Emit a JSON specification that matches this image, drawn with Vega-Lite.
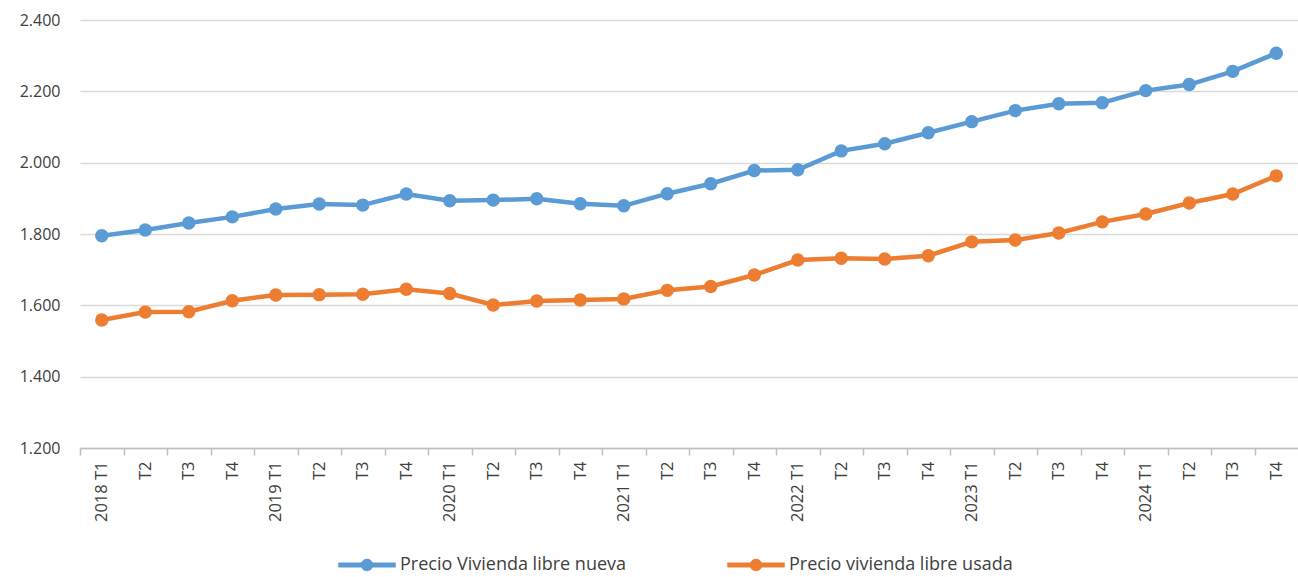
{
  "$schema": "https://vega.github.io/schema/vega-lite/v6.json",
  "width": 1218,
  "height": 428,
  "autosize": {"type": "none"},
  "padding": {"left": 80, "top": 20, "right": 0, "bottom": 129},
  "background": "white",
  "config": {
    "view": {"stroke": null},
    "font": "Open Sans",
    "axis": {"labelFont": "Open Sans", "labelColor": "#404040"}
  },
  "data": {
    "values": [
      {"periodo": "2018 T1", "serie": "Precio Vivienda  libre nueva", "valor": 1795},
      {"periodo": "2018 T2", "serie": "Precio Vivienda  libre nueva", "valor": 1811},
      {"periodo": "2018 T3", "serie": "Precio Vivienda  libre nueva", "valor": 1831},
      {"periodo": "2018 T4", "serie": "Precio Vivienda  libre nueva", "valor": 1848},
      {"periodo": "2019 T1", "serie": "Precio Vivienda  libre nueva", "valor": 1870},
      {"periodo": "2019 T2", "serie": "Precio Vivienda  libre nueva", "valor": 1884},
      {"periodo": "2019 T3", "serie": "Precio Vivienda  libre nueva", "valor": 1881},
      {"periodo": "2019 T4", "serie": "Precio Vivienda  libre nueva", "valor": 1912},
      {"periodo": "2020 T1", "serie": "Precio Vivienda  libre nueva", "valor": 1893},
      {"periodo": "2020 T2", "serie": "Precio Vivienda  libre nueva", "valor": 1895},
      {"periodo": "2020 T3", "serie": "Precio Vivienda  libre nueva", "valor": 1899},
      {"periodo": "2020 T4", "serie": "Precio Vivienda  libre nueva", "valor": 1885},
      {"periodo": "2021 T1", "serie": "Precio Vivienda  libre nueva", "valor": 1879},
      {"periodo": "2021 T2", "serie": "Precio Vivienda  libre nueva", "valor": 1913},
      {"periodo": "2021 T3", "serie": "Precio Vivienda  libre nueva", "valor": 1941},
      {"periodo": "2021 T4", "serie": "Precio Vivienda  libre nueva", "valor": 1978},
      {"periodo": "2022 T1", "serie": "Precio Vivienda  libre nueva", "valor": 1980},
      {"periodo": "2022 T2", "serie": "Precio Vivienda  libre nueva", "valor": 2033},
      {"periodo": "2022 T3", "serie": "Precio Vivienda  libre nueva", "valor": 2053},
      {"periodo": "2022 T4", "serie": "Precio Vivienda  libre nueva", "valor": 2084},
      {"periodo": "2023 T1", "serie": "Precio Vivienda  libre nueva", "valor": 2115},
      {"periodo": "2023 T2", "serie": "Precio Vivienda  libre nueva", "valor": 2146},
      {"periodo": "2023 T3", "serie": "Precio Vivienda  libre nueva", "valor": 2165},
      {"periodo": "2023 T4", "serie": "Precio Vivienda  libre nueva", "valor": 2168},
      {"periodo": "2024 T1", "serie": "Precio Vivienda  libre nueva", "valor": 2202},
      {"periodo": "2024 T2", "serie": "Precio Vivienda  libre nueva", "valor": 2219},
      {"periodo": "2024 T3", "serie": "Precio Vivienda  libre nueva", "valor": 2256},
      {"periodo": "2024 T4", "serie": "Precio Vivienda  libre nueva", "valor": 2307},
      {"periodo": "2018 T1", "serie": "Precio vivienda libre usada", "valor": 1559},
      {"periodo": "2018 T2", "serie": "Precio vivienda libre usada", "valor": 1581},
      {"periodo": "2018 T3", "serie": "Precio vivienda libre usada", "valor": 1582},
      {"periodo": "2018 T4", "serie": "Precio vivienda libre usada", "valor": 1613},
      {"periodo": "2019 T1", "serie": "Precio vivienda libre usada", "valor": 1629},
      {"periodo": "2019 T2", "serie": "Precio vivienda libre usada", "valor": 1630},
      {"periodo": "2019 T3", "serie": "Precio vivienda libre usada", "valor": 1631},
      {"periodo": "2019 T4", "serie": "Precio vivienda libre usada", "valor": 1645},
      {"periodo": "2020 T1", "serie": "Precio vivienda libre usada", "valor": 1633},
      {"periodo": "2020 T2", "serie": "Precio vivienda libre usada", "valor": 1601},
      {"periodo": "2020 T3", "serie": "Precio vivienda libre usada", "valor": 1612},
      {"periodo": "2020 T4", "serie": "Precio vivienda libre usada", "valor": 1615},
      {"periodo": "2021 T1", "serie": "Precio vivienda libre usada", "valor": 1618},
      {"periodo": "2021 T2", "serie": "Precio vivienda libre usada", "valor": 1642},
      {"periodo": "2021 T3", "serie": "Precio vivienda libre usada", "valor": 1653},
      {"periodo": "2021 T4", "serie": "Precio vivienda libre usada", "valor": 1685},
      {"periodo": "2022 T1", "serie": "Precio vivienda libre usada", "valor": 1727},
      {"periodo": "2022 T2", "serie": "Precio vivienda libre usada", "valor": 1732},
      {"periodo": "2022 T3", "serie": "Precio vivienda libre usada", "valor": 1730},
      {"periodo": "2022 T4", "serie": "Precio vivienda libre usada", "valor": 1739},
      {"periodo": "2023 T1", "serie": "Precio vivienda libre usada", "valor": 1778},
      {"periodo": "2023 T2", "serie": "Precio vivienda libre usada", "valor": 1783},
      {"periodo": "2023 T3", "serie": "Precio vivienda libre usada", "valor": 1803},
      {"periodo": "2023 T4", "serie": "Precio vivienda libre usada", "valor": 1834},
      {"periodo": "2024 T1", "serie": "Precio vivienda libre usada", "valor": 1856},
      {"periodo": "2024 T2", "serie": "Precio vivienda libre usada", "valor": 1887},
      {"periodo": "2024 T3", "serie": "Precio vivienda libre usada", "valor": 1912},
      {"periodo": "2024 T4", "serie": "Precio vivienda libre usada", "valor": 1963}
    ]
  },
  "encoding": {
    "x": {
      "field": "periodo",
      "type": "nominal",
      "sort": null,
      "scale": {"type": "band", "paddingInner": 0, "paddingOuter": 0},
      "axis": {
        "title": null,
        "labelAngle": 270,
        "labelFontSize": 16.5,
        "labelPadding": 6,
        "labelExpr": "indexof(datum.value, 'T1') >= 0 ? datum.value : slice(datum.value, 5)",
        "tickOffset": -21.75,
        "labelOffset": 21.75,
        "tickColor": "#bfbfbf",
        "tickSize": 7,
        "tickWidth": 1.5,
        "domainColor": "#bfbfbf",
        "domainWidth": 1.5,
        "grid": false
      }
    },
    "y": {
      "field": "valor",
      "type": "quantitative",
      "scale": {"domain": [1200, 2400], "nice": false, "zero": false},
      "axis": {
        "title": null,
        "values": [1200, 1400, 1600, 1800, 2000, 2200, 2400],
        "labelExpr": "replace(format(datum.value, ','), ',', '.')",
        "labelFontSize": 16,
        "labelPadding": 20,
        "ticks": false,
        "domain": false,
        "gridColor": "#d9d9d9",
        "gridWidth": 1.5
      }
    }
  },
  "layer": [
    {
      "mark": {"type": "line", "strokeWidth": 4.5},
      "encoding": {
        "color": {
          "field": "serie",
          "type": "nominal",
          "scale": {
            "domain": ["Precio Vivienda  libre nueva", "Precio vivienda libre usada"],
            "range": ["#5B9BD5", "#ED7D31"]
          },
          "legend": {
            "title": null,
            "orient": "none",
            "direction": "horizontal",
            "legendX": 258,
            "legendY": 516,
            "symbolType": "M-1,-0.075 L1,-0.075 L1,0.075 L-1,0.075 Z M0.21,0 A0.21,0.21 0 1,1 -0.21,0 A0.21,0.21 0 1,1 0.21,0 Z",
            "symbolSize": 3250,
            "symbolStrokeWidth": 0.5,
            "labelFontSize": 18,
            "labelColor": "#404040",
            "labelLimit": 400,
            "labelOffset": 4,
            "columnPadding": 95
          }
        }
      }
    },
    {
      "mark": {"type": "point", "filled": true, "size": 180, "opacity": 1},
      "encoding": {
        "color": {
          "field": "serie",
          "type": "nominal"
        }
      }
    }
  ]
}
